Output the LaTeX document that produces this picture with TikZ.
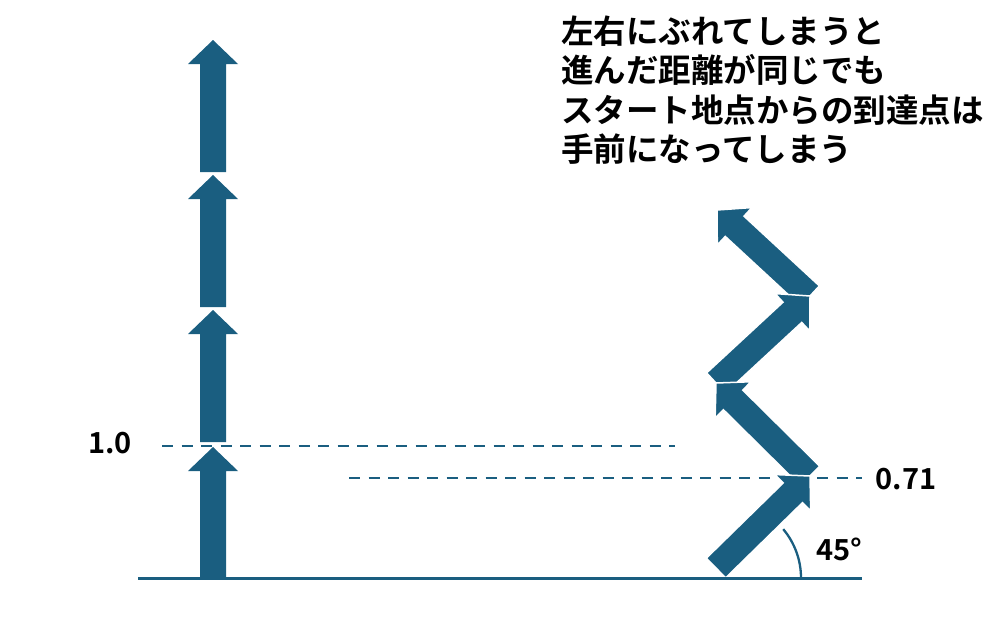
\documentclass[tikz,border=0pt]{standalone}
\usepackage{fontspec}
\setmainfont{Noto Sans CJK JP}[BoldFont={Noto Sans CJK JP Bold}]
\usetikzlibrary{calc}
\definecolor{barblue}{RGB}{26,94,128}
% #1 style, #2 tail, #3 tip; shaft half width \shw, head half width \hhw
\newcommand\shw{13pt}
\newcommand\hhw{25pt}
\newcommand\blockarr[3][]{%
  \path ($(#3)!24pt!(#2)$) coordinate (hb);
  \path[arrowbody,#1] ($(#2)!\shw!90:(#3)$) -- ($(hb)!\shw!90:(#3)$) -- ($(hb)!\hhw!90:(#3)$) -- (#3) -- ($(hb)!\hhw!-90:(#3)$) -- ($(hb)!\shw!-90:(#3)$) -- ($(#2)!\shw!-90:(#3)$) -- cycle;
}
\tikzset{
  arrowbody/.style={fill=barblue},
  outlined/.style={draw=white, line width=1.5pt, line join=miter},
  baseln/.style={draw=barblue, line width=3pt},
  guide/.style={draw=barblue, line width=2.2pt, dash pattern=on 11pt off 8.5pt},
  arcln/.style={draw=barblue, line width=2.3pt},
  lbl/.style={font=\bfseries\fontsize{29}{29}\selectfont, text=black, inner sep=0pt},
  note/.style={font=\bfseries\fontsize{32.5}{39.5}\selectfont, text=black, align=left, inner sep=0pt, anchor=west},
}
\begin{document}
\begin{tikzpicture}[x=1pt,y=-1pt]
\useasboundingbox (0,0) rectangle (1000,627);
% guide lines
\coordinate (d1a) at (162,446);
\coordinate (d1b) at (675,446);
\coordinate (d2a) at (349,478);
\coordinate (d2b) at (862,478);
\draw[guide] (d1a) -- (d1b);
\draw[guide] (d2a) -- (d2b);
% left column of arrows
\coordinate (l0) at (213,579);
\coordinate (l1) at (213,447);
\coordinate (l1b) at (213,442);
\coordinate (l2) at (213,310);
\coordinate (l2b) at (213,307);
\coordinate (l3) at (213,175);
\coordinate (l3b) at (213,172);
\coordinate (l4) at (213,40);
\blockarr{l0}{l1}
\blockarr{l1b}{l2}
\blockarr{l2b}{l3}
\blockarr{l3b}{l4}
% zigzag arrows
\renewcommand\shw{13.8pt}
\renewcommand\hhw{25.5pt}
\coordinate (r0) at (716,568);
\coordinate (r1) at (810,476);
\coordinate (r2) at (716,383);
\coordinate (r3) at (810,296);
\coordinate (r4) at (717,210);
\blockarr[outlined]{r3}{r4}
\blockarr[outlined]{r2}{r3}
\blockarr[outlined]{r1}{r2}
\blockarr[outlined]{r0}{r1}
% baseline
\coordinate (b0) at (138,578);
\coordinate (b1) at (862,578);
\draw[baseln] (b0) -- (b1);
% angle arc
\coordinate (ac) at (725,578);
\draw[arcln] (ac) ++(0:76pt) arc[start angle=0, end angle=40, radius=76pt];
% labels
\node[lbl] (v1) at (110,443) {1.0};
\node[lbl] (v2) at (906,479) {0.71};
\node[lbl] (ang) at (839,549) {45°};
\node[note] (msg) at (561,90) {左右にぶれてしまうと\\進んだ距離が同じでも\\スタート地点からの到達点は\\手前になってしまう};
\end{tikzpicture}
\end{document}
